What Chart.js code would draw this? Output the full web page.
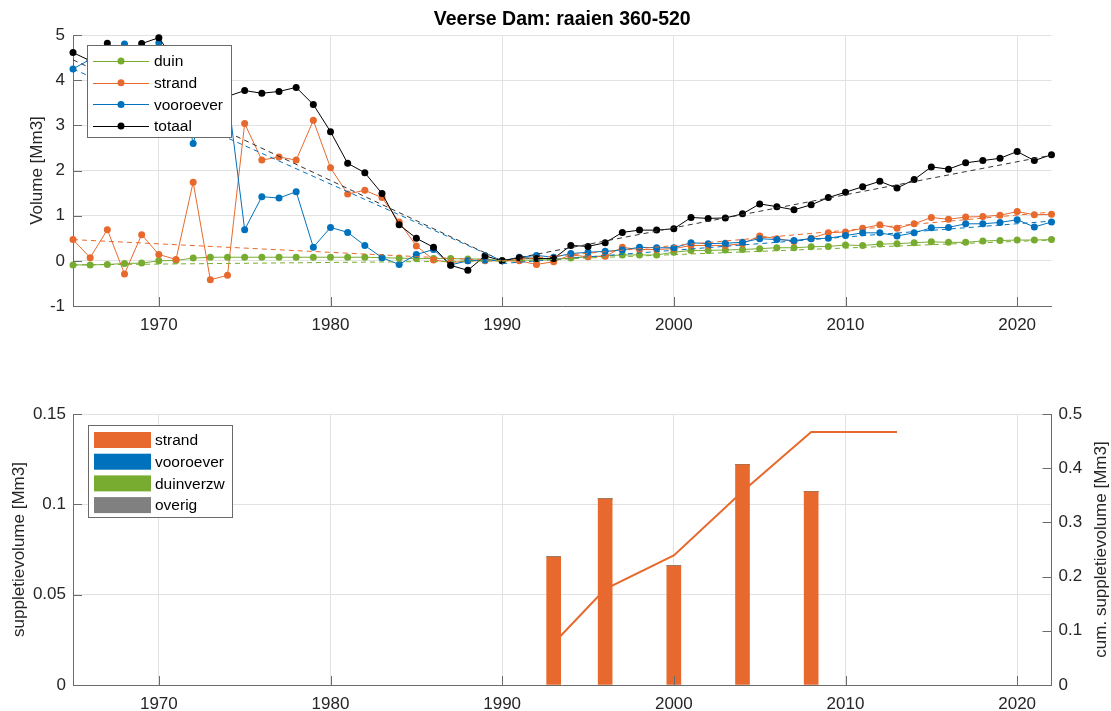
<!DOCTYPE html>
<html>
<head>
<meta charset="utf-8">
<title>Veerse Dam: raaien 360-520</title>
<script src="https://cdn.jsdelivr.net/npm/chart.js@4.4.0/dist/chart.umd.min.js"></script>
<style>
  html, body { margin: 0; padding: 0; background: #fff; }
  #wrap { position: relative; width: 1111px; height: 711px; overflow: hidden; }
  #volChart { position: absolute; left: 0; top: 0; }
  #suppChart { position: absolute; left: 0; top: 360px; }
</style>
</head>
<body>
<div id="wrap">
  <canvas id="volChart" width="1111" height="340"></canvas>
  <canvas id="suppChart" width="1111" height="351"></canvas>
</div>
<script>
// --- volumes per jaar (Mm3) ---
var years = [1965, 1966, 1967, 1968, 1969, 1970, 1971, 1972, 1973, 1974,
  1975, 1976, 1977, 1978, 1979, 1980, 1981, 1982, 1983, 1984,
  1985, 1986, 1987, 1988, 1989, 1990, 1991, 1992, 1993, 1994,
  1995, 1996, 1997, 1998, 1999, 2000, 2001, 2002, 2003, 2004,
  2005, 2006, 2007, 2008, 2009, 2010, 2011, 2012, 2013, 2014,
  2015, 2016, 2017, 2018, 2019, 2020, 2021, 2022];

var duin = [-0.09, -0.09, -0.08, -0.06, -0.05, 0.00, 0.01, 0.06, 0.08, 0.08,
  0.08, 0.08, 0.08, 0.08, 0.08, 0.08, 0.08, 0.08, 0.07, 0.06,
  0.05, 0.05, 0.05, 0.04, 0.04, 0.00, 0.02, 0.01, 0.03, 0.06,
  0.09, 0.11, 0.13, 0.13, 0.13, 0.19, 0.23, 0.23, 0.24, 0.25,
  0.27, 0.29, 0.29, 0.31, 0.32, 0.35, 0.34, 0.37, 0.38, 0.40,
  0.42, 0.41, 0.41, 0.44, 0.45, 0.46, 0.46, 0.47];

var strand = [0.47, 0.07, 0.69, -0.29, 0.58, 0.14, 0.03, 1.74, -0.42, -0.32,
  3.04, 2.23, 2.30, 2.23, 3.11, 2.06, 1.48, 1.56, 1.40, 0.86,
  0.33, 0.02, -0.04, 0.00, 0.00, 0.00, 0.00, -0.08, -0.02, 0.13,
  0.09, 0.10, 0.30, 0.25, 0.25, 0.27, 0.34, 0.34, 0.34, 0.38,
  0.55, 0.49, 0.43, 0.50, 0.62, 0.64, 0.72, 0.80, 0.72, 0.82,
  0.96, 0.92, 0.97, 0.98, 1.01, 1.09, 1.02, 1.03];

var vooroever = [4.25, 4.46, 4.21, 4.80, 4.29, 4.83, 4.35, 2.60, 4.00, 3.73,
  0.69, 1.42, 1.39, 1.53, 0.30, 0.74, 0.63, 0.34, 0.07, -0.08,
  0.14, 0.25, -0.09, 0.00, 0.02, 0.00, 0.08, 0.12, 0.08, 0.16,
  0.19, 0.21, 0.24, 0.30, 0.29, 0.29, 0.40, 0.38, 0.39, 0.41,
  0.49, 0.47, 0.45, 0.49, 0.50, 0.56, 0.62, 0.62, 0.55, 0.62,
  0.73, 0.74, 0.82, 0.82, 0.85, 0.91, 0.75, 0.86];

var totaal = [4.61, 4.43, 4.82, 4.45, 4.81, 4.94, 4.39, 4.40, 3.67, 3.64,
  3.77, 3.71, 3.75, 3.84, 3.46, 2.86, 2.16, 1.95, 1.49, 0.80,
  0.50, 0.30, -0.10, -0.21, 0.11, 0.00, 0.07, 0.05, 0.05, 0.34,
  0.32, 0.40, 0.63, 0.68, 0.68, 0.71, 0.96, 0.94, 0.95, 1.04,
  1.26, 1.20, 1.13, 1.24, 1.40, 1.52, 1.64, 1.76, 1.61, 1.80,
  2.08, 2.03, 2.17, 2.22, 2.27, 2.42, 2.22, 2.35];

// trendlijnen voor en na 1990 (begin- en eindwaarde)
var trendPreYears = [1965, 1990];
var trendPostYears = [1990, 2022];
var duinTrendPre = [-0.09, 0.00];
var duinTrendPost = [-0.01, 0.46];
var strandTrendPre = [0.47, 0.00];
var strandTrendPost = [0.00, 1.08];
var vooroeverTrendPre = [4.25, 0.00];
var vooroeverTrendPost = [-0.06, 0.88];
var totaalTrendPre = [4.45, 0.00];
var totaalTrendPost = [0.00, 2.34];

// suppleties (Mm3)
var suppYears = [1993, 1996, 2000, 2004, 2008];
var suppStrand = [0.071, 0.103, 0.066, 0.122, 0.107];
var suppVooroever = [0, 0, 0, 0, 0];
var suppDuinverzw = [0, 0, 0, 0, 0];
var suppOverig = [0, 0, 0, 0, 0];
var cumYears = [1993, 1996, 2000, 2004, 2008, 2013];
var cumValues = [0.077, 0.177, 0.239, 0.357, 0.467, 0.467];

// tick labels
var xTicks = [1970, 1980, 1990, 2000, 2010, 2020];
var volTicks = [-1, 0, 1, 2, 3, 4, 5];
var suppTicks = [0, 0.05, 0.1, 0.15];
var cumTicks = [0, 0.1, 0.2, 0.3, 0.4, 0.5];

var FONT = '"Liberation Sans", Arial, Helvetica, sans-serif';
var axisColor = '#6b6b6b';
var gridColor = '#e2e2e2';
var labelColor = '#262626';
var colDuin = '#77AC30';
var colStrand = '#E8692D';
var colVoor = '#0072BD';
var colTot = '#000000';
var colOverig = '#808080';

function pts(xs, ys) {
  return xs.map(function (x, i) { return { x: x, y: ys[i] }; });
}

function fixTicks(list) {
  return function (scale) {
    scale.ticks = list.map(function (v) { return { value: v }; });
  };
}

// titel en y-as titels
var axisTitles = {
  id: 'axisTitles',
  afterDraw: function (chart, args, opts) {
    var ctx = chart.ctx, a = chart.chartArea;
    ctx.save();
    ctx.textAlign = 'center';
    ctx.textBaseline = 'middle';
    if (opts.title) {
      ctx.font = 'bold 19.5px ' + FONT;
      ctx.fillStyle = '#000';
      ctx.fillText(opts.title, (a.left + a.right) / 2, opts.titleY);
    }
    ctx.font = '17px ' + FONT;
    ctx.fillStyle = labelColor;
    (opts.yTitles || []).forEach(function (t) {
      ctx.save();
      ctx.translate(t.x, (a.top + a.bottom) / 2);
      ctx.rotate(-Math.PI / 2);
      ctx.fillText(t.text, 0, 0);
      ctx.restore();
    });
    ctx.restore();
  }
};

// korte tickjes naar binnen, zoals in matlab
var innerTicks = {
  id: 'innerTicks',
  afterDatasetsDraw: function (chart) {
    var ctx = chart.ctx, a = chart.chartArea;
    ctx.save();
    ctx.strokeStyle = axisColor;
    ctx.lineWidth = 1;
    Object.keys(chart.scales).forEach(function (id) {
      var s = chart.scales[id];
      s.ticks.forEach(function (t) {
        var p = Math.round(s.getPixelForValue(t.value)) + 0.5;
        ctx.beginPath();
        if (s.axis === 'x') {
          ctx.moveTo(p, a.bottom); ctx.lineTo(p, a.bottom - 9);
        } else if (s.position === 'left') {
          ctx.moveTo(a.left, p); ctx.lineTo(a.left + 9, p);
        } else {
          ctx.moveTo(a.right, p); ctx.lineTo(a.right - 9, p);
        }
        ctx.stroke();
      });
    });
    ctx.restore();
  }
};

// legenda met kader binnen het grafiekvlak
var boxLegend = {
  id: 'boxLegend',
  afterDraw: function (chart, args, opts) {
    var ctx = chart.ctx, a = chart.chartArea;
    var x0 = Math.round(a.left + opts.dx), y0 = Math.round(a.top + opts.dy);
    ctx.save();
    ctx.fillStyle = '#fff';
    ctx.fillRect(x0, y0, opts.w, opts.h);
    ctx.strokeStyle = '#6a6a6a';
    ctx.lineWidth = 1;
    ctx.strokeRect(x0 + 0.5, y0 + 0.5, opts.w, opts.h);
    ctx.font = '15.5px ' + FONT;
    ctx.textBaseline = 'middle';
    ctx.textAlign = 'left';
    opts.items.forEach(function (idx, i) {
      var ds = chart.data.datasets[idx];
      var cy = y0 + opts.first + i * opts.step;
      if (opts.kind === 'line') {
        ctx.strokeStyle = ds.borderColor;
        ctx.lineWidth = 1;
        ctx.beginPath();
        ctx.moveTo(x0 + 6, Math.round(cy) + 0.5);
        ctx.lineTo(x0 + 62, Math.round(cy) + 0.5);
        ctx.stroke();
        ctx.fillStyle = ds.borderColor;
        ctx.beginPath();
        ctx.arc(x0 + 34, cy, 3.5, 0, Math.PI * 2);
        ctx.fill();
      } else {
        ctx.fillStyle = ds.backgroundColor;
        ctx.fillRect(x0 + 6, cy - 8, 57, 16);
      }
      ctx.fillStyle = '#000';
      ctx.fillText(ds.label, x0 + 67, cy + 1);
    });
    ctx.restore();
  }
};

function dataLine(label, values, color, order) {
  return {
    label: label,
    data: pts(years, values),
    borderColor: color,
    backgroundColor: color,
    borderWidth: 1,
    pointRadius: 3.5,
    pointBorderWidth: 0,
    pointHoverRadius: 3.5,
    order: order,
    clip: false
  };
}

function trendLine(xs, values, color) {
  return {
    label: '',
    data: pts(xs, values),
    borderColor: color,
    borderWidth: 1,
    borderDash: [5, 4],
    pointRadius: 0,
    order: 0,
    clip: false
  };
}

var tickFont = { family: FONT, size: 17 };

// bovenste grafiek: volumes
var volChart = new Chart(document.getElementById('volChart'), {
  type: 'line',
  data: {
    datasets: [
      dataLine('duin', duin, colDuin, 8),
      dataLine('strand', strand, colStrand, 7),
      dataLine('vooroever', vooroever, colVoor, 6),
      dataLine('totaal', totaal, colTot, 5),
      trendLine(trendPreYears, duinTrendPre, colDuin),
      trendLine(trendPostYears, duinTrendPost, colDuin),
      trendLine(trendPreYears, strandTrendPre, colStrand),
      trendLine(trendPostYears, strandTrendPost, colStrand),
      trendLine(trendPreYears, vooroeverTrendPre, colVoor),
      trendLine(trendPostYears, vooroeverTrendPost, colVoor),
      trendLine(trendPreYears, totaalTrendPre, '#333333'),
      trendLine(trendPostYears, totaalTrendPost, '#333333')
    ]
  },
  options: {
    responsive: false,
    animation: false,
    layout: { padding: { top: 35, right: 59.5, bottom: 0, left: 0 } },
    scales: {
      x: {
        type: 'linear', min: 1965, max: 2022,
        afterBuildTicks: fixTicks(xTicks),
        afterFit: function (s) { s.height = 34; },
        grid: { color: gridColor, drawTicks: false },
        border: { color: axisColor },
        ticks: { padding: 9, font: tickFont, color: labelColor, maxRotation: 0,
          callback: function (v) { return String(v); } }
      },
      y: {
        type: 'linear', min: -1, max: 5,
        afterBuildTicks: fixTicks(volTicks),
        afterFit: function (s) { s.width = 73; },
        grid: { color: gridColor, drawTicks: false },
        border: { color: axisColor },
        ticks: { padding: 8, font: tickFont, color: labelColor,
          callback: function (v) { return String(v); } }
      }
    },
    plugins: {
      legend: { display: false },
      tooltip: { enabled: false },
      axisTitles: { title: 'Veerse Dam: raaien 360-520', titleY: 20,
        yTitles: [{ text: 'Volume [Mm3]', x: 37 }] },
      boxLegend: { kind: 'line', items: [0, 1, 2, 3], dx: 14, dy: 10, w: 144, h: 92, first: 16, step: 21.7 }
    }
  },
  plugins: [innerTicks, boxLegend, axisTitles]
});

// onderste grafiek: suppleties
var suppChart = new Chart(document.getElementById('suppChart'), {
  type: 'bar',
  data: {
    datasets: [
      { label: 'strand', data: pts(suppYears, suppStrand), backgroundColor: colStrand, borderWidth: 0, barThickness: 14, order: 1 },
      { label: 'vooroever', data: pts(suppYears, suppVooroever), backgroundColor: colVoor, borderWidth: 0, barThickness: 14, order: 2 },
      { label: 'duinverzw', data: pts(suppYears, suppDuinverzw), backgroundColor: colDuin, borderWidth: 0, barThickness: 14, order: 3 },
      { label: 'overig', data: pts(suppYears, suppOverig), backgroundColor: colOverig, borderWidth: 0, barThickness: 14, order: 4 },
      { type: 'line', label: 'cumulatief', data: pts(cumYears, cumValues), yAxisID: 'y2',
        borderColor: colStrand, borderWidth: 2, pointRadius: 0, order: 0, clip: false }
    ]
  },
  options: {
    responsive: false,
    animation: false,
    layout: { padding: { top: 54, right: 0, bottom: 0, left: 0 } },
    scales: {
      x: {
        type: 'linear', min: 1965, max: 2022, stacked: true, offset: false,
        afterBuildTicks: fixTicks(xTicks),
        afterFit: function (s) { s.height = 26; },
        grid: { color: gridColor, drawTicks: false, offset: false },
        border: { color: axisColor },
        ticks: { padding: 9, font: tickFont, color: labelColor, maxRotation: 0,
          callback: function (v) { return String(v); } }
      },
      y: {
        type: 'linear', position: 'left', min: 0, max: 0.15, stacked: true,
        afterBuildTicks: fixTicks(suppTicks),
        afterFit: function (s) { s.width = 73; },
        grid: { color: gridColor, drawTicks: false },
        border: { color: axisColor },
        ticks: { padding: 7, font: tickFont, color: labelColor,
          callback: function (v) { return String(v); } }
      },
      y2: {
        type: 'linear', position: 'right', min: 0, max: 0.5,
        afterBuildTicks: fixTicks(cumTicks),
        afterFit: function (s) { s.width = 59.5; },
        grid: { drawOnChartArea: false, drawTicks: false },
        border: { color: axisColor },
        ticks: { padding: 7, font: tickFont, color: labelColor,
          callback: function (v) { return String(v); } }
      }
    },
    plugins: {
      legend: { display: false },
      tooltip: { enabled: false },
      axisTitles: { yTitles: [{ text: 'suppletievolume [Mm3]', x: 19 }, { text: 'cum. suppletievolume [Mm3]', x: 1101 }] },
      boxLegend: { kind: 'box', items: [0, 1, 2, 3], dx: 15, dy: 11, w: 144, h: 92, first: 15, step: 21.7 }
    }
  },
  plugins: [innerTicks, boxLegend, axisTitles]
});
</script>
</body>
</html>
